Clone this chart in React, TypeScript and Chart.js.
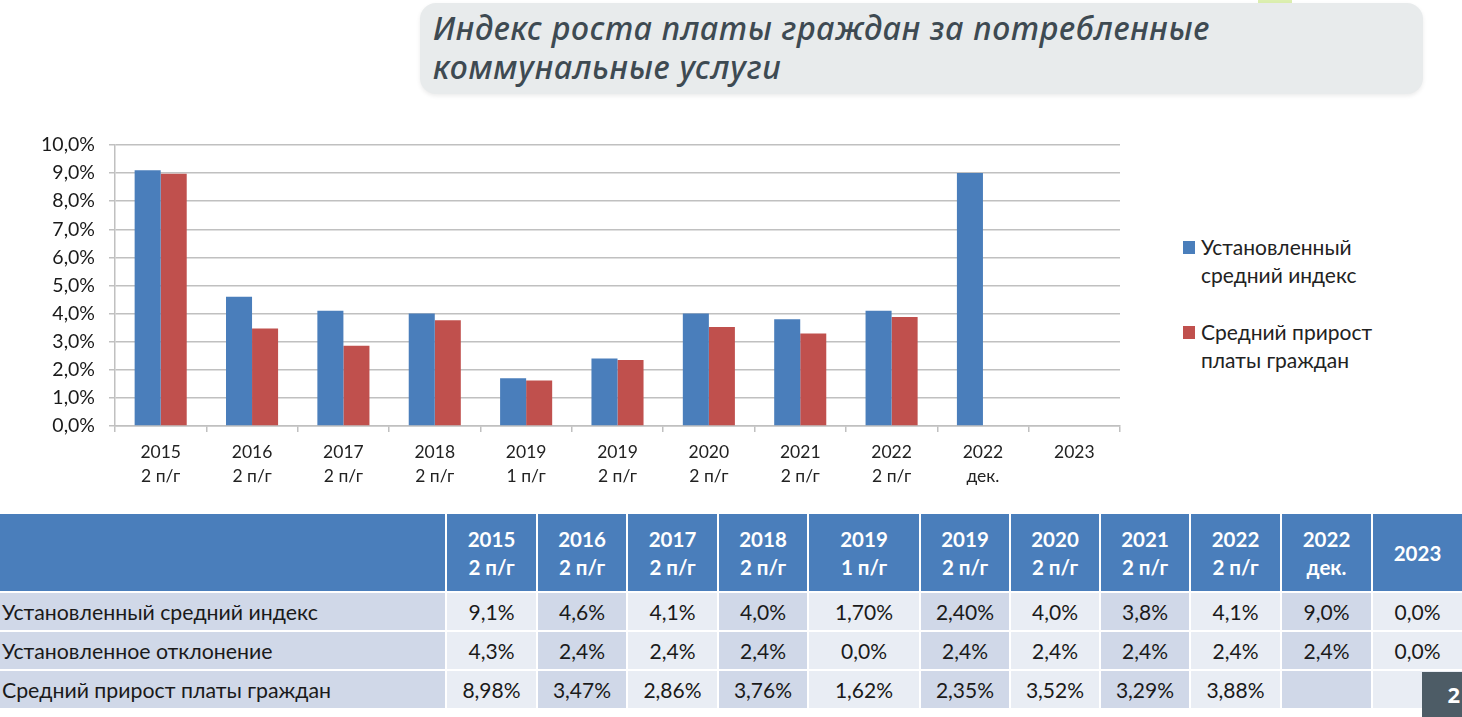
import React, { useEffect, useRef } from "react";
import { Chart, registerables } from "chart.js";

Chart.register(...registerables);

const categories: string[][] = [
  ["2015", "2 п/г"],
  ["2016", "2 п/г"],
  ["2017", "2 п/г"],
  ["2018", "2 п/г"],
  ["2019", "1 п/г"],
  ["2019", "2 п/г"],
  ["2020", "2 п/г"],
  ["2021", "2 п/г"],
  ["2022", "2 п/г"],
  ["2022", "дек."],
  ["2023"],
];

const seriesNames = ["Установленный средний индекс", "Средний прирост платы граждан"];
const legendLines: string[][] = [
  ["Установленный", "средний индекс"],
  ["Средний прирост", "платы граждан"],
];

const indexValues: (number | null)[] = [9.1, 4.6, 4.1, 4.0, 1.7, 2.4, 4.0, 3.8, 4.1, 9.0, 0.0];
const growthValues: (number | null)[] = [8.98, 3.47, 2.86, 3.76, 1.62, 2.35, 3.52, 3.29, 3.88, null, null];

const tableRowLabels = ["Установленный средний индекс", "Установленное отклонение", "Средний прирост платы граждан"];
const tableIndex = ["9,1%", "4,6%", "4,1%", "4,0%", "1,70%", "2,40%", "4,0%", "3,8%", "4,1%", "9,0%", "0,0%"];
const tableDeviation = ["4,3%", "2,4%", "2,4%", "2,4%", "0,0%", "2,4%", "2,4%", "2,4%", "2,4%", "2,4%", "0,0%"];
const tableGrowth = ["8,98%", "3,47%", "2,86%", "3,76%", "1,62%", "2,35%", "3,52%", "3,29%", "3,88%", "", ""];

const titleLines = ["Индекс роста платы граждан за потребленные", "коммунальные услуги"];

const BLUE = "#4a7ebb";
const RED = "#c0504d";
const GRID = "#c0c0c0";
const FONT = "Lato, 'Noto Sans', sans-serif";

const colWidths = [446, 91, 90, 91, 90, 112, 90, 90, 90, 91, 91, 90];

export default function App() {
  const canvasRef = useRef<HTMLCanvasElement | null>(null);

  useEffect(() => {
    if (!canvasRef.current) return;
    const chart = new Chart(canvasRef.current, {
      type: "bar",
      data: {
        labels: categories,
        datasets: [
          { label: seriesNames[0], data: indexValues, backgroundColor: BLUE, borderWidth: 0 },
          { label: seriesNames[1], data: growthValues, backgroundColor: RED, borderWidth: 0 },
        ],
      },
      options: {
        animation: false,
        responsive: false,
        maintainAspectRatio: false,
        layout: { padding: { top: 15, right: 15, left: 0, bottom: 0 } },
        plugins: { legend: { display: false }, tooltip: { enabled: false }, title: { display: false } },
        datasets: { bar: { categoryPercentage: 0.57, barPercentage: 1 } },
        scales: {
          x: {
            offset: true,
            grid: { display: true, drawOnChartArea: false, drawTicks: true, tickLength: 6, color: GRID, lineWidth: 1.5, offset: true },
            border: { display: true, color: GRID, width: 1.5 },
            ticks: { color: "#222", font: { family: FONT, size: 17.5, lineHeight: 1.4 }, padding: 8, maxRotation: 0, autoSkip: false },
            afterFit: (s: any) => { s.height = 74; },
          },
          y: {
            min: 0,
            max: 10,
            ticks: {
              stepSize: 1,
              color: "#1a1a1a",
              font: { family: FONT, size: 19.5 },
              padding: 14,
              callback: (v: any) => Number(v).toFixed(1).replace(".", ",") + "%",
            },
            grid: { color: GRID, lineWidth: 1.5, tickLength: 6 },
            border: { display: true, color: GRID, width: 1.5 },
            afterFit: (s: any) => {
              s.width = 115;
              s.paddingTop = 0;
              s.paddingBottom = 0;
            },
          },
        },
      },
    });
    return () => chart.destroy();
  }, []);

  const legendColors = [BLUE, RED];
  const legendTops = [233, 318];

  const cellBg = (ci: number) => (ci % 2 === 0 ? "#d0d8e8" : "#e9edf4");

  const rows = [tableIndex, tableDeviation, tableGrowth];

  return (
    <div style={{ position: "fixed", left: 0, top: 0, width: 1462, height: 717, background: "#fff", overflow: "hidden", fontFamily: FONT }}>
      <div style={{ position: "absolute", left: 1258, top: 0, width: 34, height: 3, background: "#dcefb0" }} />
      <div
        style={{
          position: "absolute",
          left: 420,
          top: 3,
          width: 1003,
          height: 91,
          background: "#e8ebec",
          borderRadius: 16,
          boxShadow: "0 2px 4px rgba(0,0,0,0.08)",
        }}
      >
        <div
          style={{
            position: "absolute",
            left: 13,
            top: 5,
            fontFamily: "'Noto Sans', sans-serif",
            fontStyle: "italic",
            fontWeight: 500,
            fontSize: 32,
            lineHeight: "39px",
            color: "#3e4a52",
            whiteSpace: "nowrap",
            letterSpacing: 0.7,
          }}
        >
          {titleLines.map((l, i) => (
            <div key={i}>{l}</div>
          ))}
        </div>
      </div>

      <div style={{ position: "absolute", left: 0, top: 130, width: 1135, height: 370 }}>
        <canvas ref={canvasRef} width={1135} height={370} style={{ display: "block", width: 1135, height: 370 }} />
      </div>

      {legendLines.map((lines, i) => (
        <div key={i} style={{ position: "absolute", left: 1183, top: legendTops[i] }}>
          <div style={{ position: "absolute", left: 0, top: 8, width: 12, height: 13, background: legendColors[i] }} />
          <div style={{ position: "absolute", left: 18, top: 0, fontSize: 21, lineHeight: "28px", color: "#222", whiteSpace: "nowrap" }}>
            {lines.map((l, j) => (
              <div key={j}>{l}</div>
            ))}
          </div>
        </div>
      ))}

      <table
        style={{
          position: "absolute",
          left: 0,
          top: 514,
          width: 1462,
          borderCollapse: "collapse",
          tableLayout: "fixed",
          fontFamily: FONT,
        }}
      >
        <colgroup>
          {colWidths.map((w, i) => (
            <col key={i} style={{ width: w }} />
          ))}
        </colgroup>
        <thead>
          <tr style={{ height: 78 }}>
            <th style={{ background: BLUE, borderRight: "2px solid #fff", borderBottom: "2px solid #fff" }} />
            {categories.map((c, i) => (
              <th
                key={i}
                style={{
                  background: BLUE,
                  color: "#fff",
                  fontSize: 20.5,
                  fontWeight: 700,
                  lineHeight: "28px",
                  textAlign: "center",
                  padding: 0,
                  borderLeft: "2px solid #fff",
                  borderBottom: "2px solid #fff",
                }}
              >
                {c.map((l, j) => (
                  <div key={j}>{l}</div>
                ))}
              </th>
            ))}
          </tr>
        </thead>
        <tbody>
          {rows.map((r, ri) => (
            <tr key={ri} style={{ height: 39 }}>
              <td
                style={{
                  background: cellBg(0),
                  fontSize: 21.3,
                  color: "#1a1a1a",
                  padding: "0 0 0 2px",
                  whiteSpace: "nowrap",
                  borderBottom: "2px solid #fff",
                  borderRight: "2px solid #fff",
                }}
              >
                {tableRowLabels[ri]}
              </td>
              {r.map((v, ci) => (
                <td
                  key={ci}
                  style={{
                    background: cellBg(ci + 1),
                    fontSize: 21,
                    color: "#1a1a1a",
                    textAlign: "center",
                    padding: 0,
                    borderLeft: "2px solid #fff",
                    borderBottom: "2px solid #fff",
                  }}
                >
                  {v}
                </td>
              ))}
            </tr>
          ))}
        </tbody>
      </table>

      <div
        style={{
          position: "absolute",
          left: 1422,
          top: 672,
          width: 40,
          height: 45,
          background: "#4d5c66",
          color: "#fff",
          fontWeight: 700,
          fontSize: 22,
          fontFamily: "'Noto Sans', sans-serif",
          textAlign: "right",
          paddingRight: 2,
          boxSizing: "border-box",
          lineHeight: "45px",
        }}
      >
        2
      </div>
    </div>
  );
}
